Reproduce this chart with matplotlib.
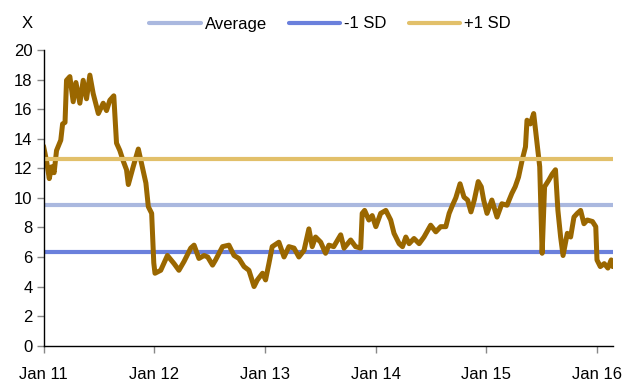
import pandas as pd
import numpy as np
import matplotlib
matplotlib.use('Agg')
import matplotlib.pyplot as plt
import matplotlib.dates as mdates

plt.rcParams['font.family'] = ['Liberation Sans', 'DejaVu Sans']

# multiple
dates = ['2011-01-01', '2011-01-11', '2011-01-20', '2011-01-28', '2011-02-05', '2011-02-13',
         '2011-02-27', '2011-03-05', '2011-03-13', '2011-03-18', '2011-03-29', '2011-04-09',
         '2011-04-18', '2011-05-01', '2011-05-12', '2011-05-23', '2011-06-03', '2011-06-14',
         '2011-07-01', '2011-07-17', '2011-07-28', '2011-08-08', '2011-08-21', '2011-08-30',
         '2011-09-10', '2011-09-21', '2011-10-02', '2011-10-08', '2011-10-24', '2011-11-10',
         '2011-11-21', '2011-12-05', '2011-12-13', '2011-12-24', '2011-12-31', '2012-01-04',
         '2012-01-23', '2012-02-14', '2012-03-07', '2012-03-23', '2012-04-09', '2012-05-01',
         '2012-05-12', '2012-05-28', '2012-06-14', '2012-06-26', '2012-07-12', '2012-07-22',
         '2012-08-14', '2012-09-04', '2012-09-21', '2012-10-07', '2012-10-24', '2012-11-09',
         '2012-11-26', '2012-12-07', '2012-12-24', '2013-01-03', '2013-01-14', '2013-01-25',
         '2013-02-16', '2013-03-05', '2013-03-21', '2013-04-07', '2013-04-23', '2013-05-10',
         '2013-05-26', '2013-06-06', '2013-06-17', '2013-07-04', '2013-07-20', '2013-07-31',
         '2013-08-16', '2013-09-08', '2013-09-19', '2013-10-11', '2013-10-27', '2013-11-13',
         '2013-11-18', '2013-11-26', '2013-12-10', '2013-12-21', '2014-01-02', '2014-01-18',
         '2014-02-04', '2014-02-20', '2014-03-03', '2014-03-20', '2014-03-31', '2014-04-11',
         '2014-04-22', '2014-05-08', '2014-05-25', '2014-06-10', '2014-07-02', '2014-07-19',
         '2014-08-04', '2014-08-21', '2014-09-01', '2014-09-12', '2014-09-23', '2014-10-07',
         '2014-10-20', '2014-11-01', '2014-11-12', '2014-11-23', '2014-12-06', '2014-12-16',
         '2014-12-24', '2015-01-04', '2015-01-20', '2015-02-06', '2015-02-22', '2015-03-11',
         '2015-03-27', '2015-04-07', '2015-04-18', '2015-04-30', '2015-05-11', '2015-05-16',
         '2015-05-27', '2015-06-07', '2015-06-16', '2015-06-27', '2015-07-05', '2015-07-13',
         '2015-07-27', '2015-08-07', '2015-08-18', '2015-08-26', '2015-09-04', '2015-09-12',
         '2015-09-26', '2015-10-07', '2015-10-18', '2015-10-29', '2015-11-09', '2015-11-20',
         '2015-12-01', '2015-12-18', '2015-12-29', '2016-01-02', '2016-01-13', '2016-01-26',
         '2016-02-07', '2016-02-18', '2016-02-23']
values = [13.5, 12.5, 11.3, 12.1, 11.7, 13.2,
          13.9, 15.0, 15.1, 17.95, 18.2, 16.5,
          17.8, 16.4, 17.95, 16.7, 18.3, 17.05,
          15.7, 16.4, 15.9, 16.6, 16.9, 13.7,
          13.2, 12.5, 11.9, 10.9, 12.1, 13.3,
          12.3, 11.0, 9.4, 8.95, 5.6, 4.9,
          5.1, 6.1, 5.55, 5.1, 5.7, 6.6,
          6.8, 5.9, 6.1, 6.0, 5.45, 5.8,
          6.7, 6.8, 6.1, 5.9, 5.35, 5.1,
          4.0, 4.45, 4.9, 4.45, 5.55, 6.7,
          7.0, 6.0, 6.7, 6.6, 6.0, 6.45,
          7.9, 6.7, 7.35, 7.0, 6.25, 6.8,
          6.7, 7.5, 6.6, 7.15, 6.7, 6.6,
          8.95, 9.15, 8.5, 8.8, 8.05, 8.95,
          9.15, 8.5, 7.6, 6.9, 6.7, 7.35,
          6.9, 7.25, 6.9, 7.35, 8.15, 7.7,
          8.05, 8.05, 8.95, 9.5, 10.0, 10.95,
          10.05, 9.85, 9.05, 9.85, 11.1, 10.75,
          9.85, 8.95, 9.85, 8.7, 9.6, 9.5,
          10.3, 10.75, 11.4, 12.55, 13.45, 15.25,
          15.0, 15.7, 14.1, 12.1, 6.25, 10.75,
          11.2, 11.6, 11.9, 9.15, 7.35, 6.1,
          7.6, 7.35, 8.7, 8.95, 9.15, 8.25,
          8.5, 8.4, 8.05, 5.8, 5.35, 5.55,
          5.25, 5.8, 5.35]

average = 9.5
minus_sd = 6.35
plus_sd = 12.65

df = pd.DataFrame({'date': pd.to_datetime(dates), 'value': values})

x0 = pd.Timestamp('2011-01-01')
x1 = pd.Timestamp('2016-02-23')

fig = plt.figure(figsize=(6.37, 3.83), dpi=100)
ax = fig.add_axes([0.0683, 0.0974, 0.8936, 0.7721])

ax.plot(df['date'], df['value'], color='#9A6700', lw=3.6, zorder=3,
        solid_joinstyle='round', solid_capstyle='round')
ax.plot([x0, x1], [average] * 2, color='#AAB8DF', lw=3, solid_capstyle='round',
        label='Average', zorder=2)
ax.plot([x0, x1], [minus_sd] * 2, color='#6A80DC', lw=3, solid_capstyle='round',
        label='-1 SD', zorder=2)
ax.plot([x0, x1], [plus_sd] * 2, color='#E2C06A', lw=3, solid_capstyle='round',
        label='+1 SD', zorder=4)

ax.set_xlim(x0, x1)
ax.set_ylim(0, 20)
ax.set_yticks(np.arange(0, 21, 2))
ax.xaxis.set_major_locator(mdates.YearLocator())
ax.xaxis.set_major_formatter(mdates.DateFormatter('Jan %y'))

for s in ['top', 'right']:
    ax.spines[s].set_visible(False)
for s in ['left', 'bottom']:
    ax.spines[s].set_color('black')
    ax.spines[s].set_linewidth(1)
    ax.spines[s].set_zorder(5)

ax.tick_params(axis='both', direction='out', length=5, width=1, color='#888888',
               labelsize=12, labelcolor='black')
ax.tick_params(axis='x', pad=10)
ax.tick_params(axis='y', pad=3)

fig.text(26.7 / 637, 1 - 24 / 383, 'X', fontsize=12, ha='center', va='center')

ax.legend(loc='center', bbox_to_anchor=(330 / 637, 1 - 24 / 383), bbox_transform=fig.transFigure,
          ncol=3, frameon=False, fontsize=12, handlelength=3.1, handletextpad=0.25,
          columnspacing=1.3)

plt.savefig('out.png', dpi=100)
